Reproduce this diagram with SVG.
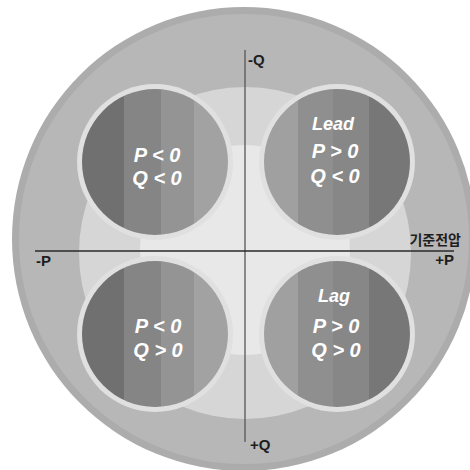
<svg xmlns="http://www.w3.org/2000/svg" width="470" height="470" viewBox="0 0 470 470">
  <defs>
    <clipPath id="disk" clipPathUnits="userSpaceOnUse">
      <circle cx="0" cy="0" r="73"/>
    </clipPath>
    <style>
      .ring { fill: #e0e0e0; }
      .lbl { font-family: "Liberation Sans", Arial, sans-serif; font-weight: bold; font-size: 15px; fill: #1e1e1e; }
      .kor { font-family: "Noto Sans CJK KR", "Noto Sans", sans-serif; font-weight: bold; font-size: 14px; fill: #1e1e1e; }
      .in { font-family: "Liberation Sans", Arial, sans-serif; font-weight: bold; font-style: italic; font-size: 20px; fill: #ffffff; text-anchor: middle; }
      .axis { stroke-width: 1.3; fill: none; }
    </style>
  </defs>

  <g id="background">
    <circle cx="244" cy="239" r="232" fill="#acacac"/>
    <circle cx="244" cy="239" r="225" fill="#b7b7b7"/>
    <circle cx="245" cy="253" r="166" fill="#d6d6d6"/>
    <circle cx="245" cy="250" r="105" fill="#e8e8e8"/>
  </g>

  <g id="node-tl" transform="translate(155,162)">
    <circle class="ring" r="78"/>
    <g clip-path="url(#disk)">
      <rect x="-73" y="-73" width="42" height="146" fill="#707070"/>
      <rect x="-31" y="-73" width="37" height="146" fill="#858585"/>
      <rect x="6" y="-73" width="33" height="146" fill="#949494"/>
      <rect x="39" y="-73" width="34" height="146" fill="#a2a2a2"/>
    </g>
    <text class="in" x="2" y="0">P &lt; 0</text>
    <text class="in" x="2" y="23">Q &lt; 0</text>
  </g>

  <g id="node-tr" transform="translate(337,162)">
    <circle class="ring" r="78"/>
    <g clip-path="url(#disk)">
      <rect x="-73" y="-73" width="34" height="146" fill="#a0a0a0"/>
      <rect x="-39" y="-73" width="35" height="146" fill="#8f8f8f"/>
      <rect x="-4" y="-73" width="36" height="146" fill="#878787"/>
      <rect x="32" y="-73" width="41" height="146" fill="#777777"/>
    </g>
    <text class="in" x="-4" y="-32" style="font-size:18px">Lead</text>
    <text class="in" x="-2" y="-4">P &gt; 0</text>
    <text class="in" x="-2" y="21">Q &lt; 0</text>
  </g>

  <g id="node-bl" transform="translate(155,334)">
    <circle class="ring" r="78"/>
    <g clip-path="url(#disk)">
      <rect x="-73" y="-73" width="42" height="146" fill="#707070"/>
      <rect x="-31" y="-73" width="37" height="146" fill="#858585"/>
      <rect x="6" y="-73" width="33" height="146" fill="#949494"/>
      <rect x="39" y="-73" width="34" height="146" fill="#a2a2a2"/>
    </g>
    <text class="in" x="3" y="-1">P &lt; 0</text>
    <text class="in" x="3" y="23">Q &gt; 0</text>
  </g>

  <g id="node-br" transform="translate(337,334)">
    <circle class="ring" r="78"/>
    <g clip-path="url(#disk)">
      <rect x="-73" y="-73" width="34" height="146" fill="#a0a0a0"/>
      <rect x="-39" y="-73" width="35" height="146" fill="#8f8f8f"/>
      <rect x="-4" y="-73" width="36" height="146" fill="#878787"/>
      <rect x="32" y="-73" width="41" height="146" fill="#777777"/>
    </g>
    <text class="in" x="-3" y="-32" style="font-size:18px">Lag</text>
    <text class="in" x="-1" y="-1">P &gt; 0</text>
    <text class="in" x="-1" y="23">Q &gt; 0</text>
  </g>

  <g id="connectors">
    <line class="axis" x1="245" y1="50" x2="245" y2="442" stroke="#555555"/>
    <line class="axis" x1="35" y1="251" x2="454" y2="251" stroke="#2a2a2a"/>
  </g>

  <g id="labels">
    <text class="lbl" x="248" y="65">-Q</text>
    <text class="lbl" x="250" y="450">+Q</text>
    <text class="lbl" x="36" y="266">-P</text>
    <text class="lbl" x="454" y="265" text-anchor="end">+P</text>
    <text class="kor" x="461" y="245" text-anchor="end">기준전압</text>
  </g>
</svg>
